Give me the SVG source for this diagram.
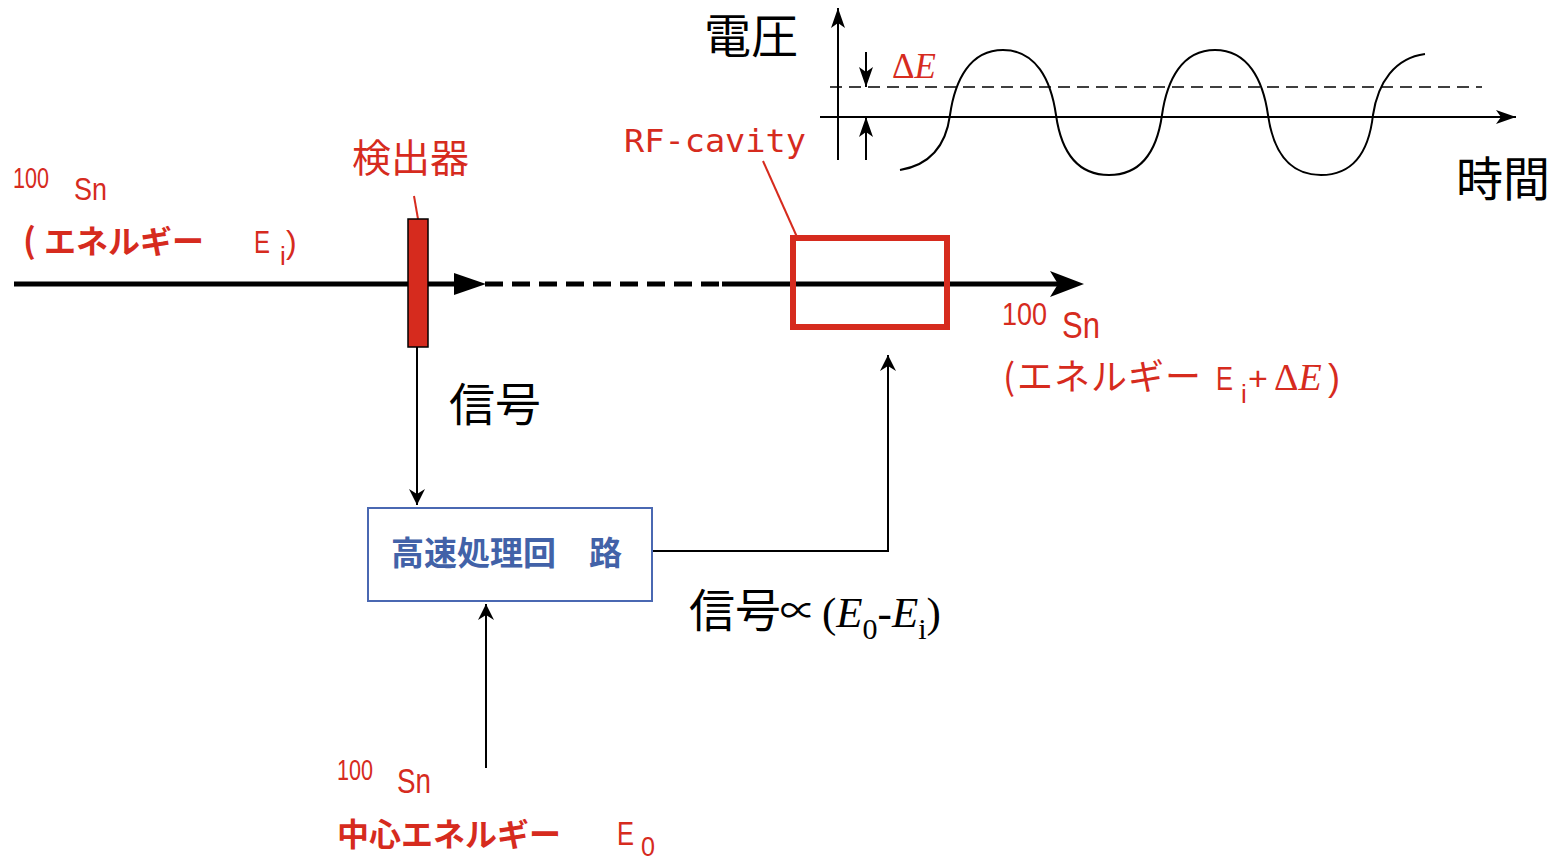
<svg xmlns="http://www.w3.org/2000/svg" width="1558" height="861" viewBox="0 0 1558 861">
<style>
.red{fill:#d62b1e}
.blk{fill:#000}
.cjk{font-family:"Noto Sans CJK JP","Noto Sans",sans-serif}
.nar{font-family:"Liberation Sans",Arial,sans-serif}
.ser{font-family:"Liberation Serif","Times New Roman",serif}
.it{font-style:italic}
.mono{font-family:"DejaVu Sans Mono","Liberation Mono",monospace}
.thin{stroke:#000;stroke-width:2;fill:none}
</style>
<defs>
<marker id="arr" markerUnits="userSpaceOnUse" viewBox="0 0 16 16" markerWidth="16" markerHeight="16" refX="16" refY="8" orient="auto">
<path d="M0,0 L16,8 L0,16 L5,8 z" fill="#000"/>
</marker>
<marker id="arrS" markerUnits="userSpaceOnUse" viewBox="0 0 20 14" markerWidth="20" markerHeight="14" refX="20" refY="7" orient="auto">
<path d="M0,0 L20,7 L0,14 L5,7 z" fill="#000"/>
</marker>
</defs>
<rect width="1558" height="861" fill="#fff"/>

<g id="connectors">
<line x1="14" y1="284" x2="460" y2="284" stroke="#000" stroke-width="5"/>
<line x1="485" y1="284" x2="722" y2="284" stroke="#000" stroke-width="5" stroke-dasharray="18,9"/>
<line x1="722" y1="284" x2="1075" y2="284" stroke="#000" stroke-width="5"/>
<polygon points="454,273 486,284 454,295" fill="#000"/>
<polygon points="1050,271 1084,284 1050,297 1058,284" fill="#000"/>
<line x1="417" y1="347" x2="417" y2="505" class="thin" marker-end="url(#arr)"/>
<polyline points="652,551 888,551 888,355" class="thin" marker-end="url(#arr)"/>
<line x1="486" y1="768" x2="486" y2="604" class="thin" marker-end="url(#arr)"/>
<line x1="414" y1="196" x2="418" y2="219" stroke="#d62b1e" stroke-width="2"/>
<line x1="763" y1="161" x2="797" y2="237" stroke="#d62b1e" stroke-width="2"/>
</g>

<g id="detector">
<rect x="408" y="219" width="20" height="128" fill="#d62b1e" stroke="#000" stroke-width="1.5"/>
<text x="352" y="172" class="cjk red" font-size="39">検出器</text>
</g>

<g id="rf-cavity">
<rect x="793" y="238" width="154" height="89" fill="none" stroke="#d62b1e" stroke-width="6"/>
<text x="624" y="152" class="mono red" font-size="32" textLength="182" lengthAdjust="spacingAndGlyphs">RF-cavity</text>
</g>

<g id="processor">
<rect x="368" y="508" width="284" height="93" fill="#fff" stroke="#4a68b2" stroke-width="2"/>
<text x="391" y="565" class="cjk" font-size="33" font-weight="bold" fill="#4262a8">高速処理回</text>
<text x="589" y="565" class="cjk" font-size="33" font-weight="bold" fill="#4262a8">路</text>
</g>

<g id="input-beam-label">
<text x="13" y="188" class="nar red" font-size="29" textLength="36" lengthAdjust="spacingAndGlyphs">100</text>
<text x="74" y="200" class="nar red" font-size="32" textLength="33" lengthAdjust="spacingAndGlyphs">Sn</text>
<text x="23" y="253" class="cjk red" font-size="34" font-weight="bold">(</text>
<text x="44" y="253" class="cjk red" font-size="32" font-weight="bold">エネルギー</text>
<text x="254" y="253" class="nar red" font-size="32" textLength="16" lengthAdjust="spacingAndGlyphs">E</text>
<text x="280" y="265" class="nar red" font-size="26">i</text>
<text x="286" y="253" class="nar red" font-size="32">)</text>
</g>

<g id="output-beam-label">
<text x="1002" y="325" class="nar red" font-size="31" textLength="45" lengthAdjust="spacingAndGlyphs">100</text>
<text x="1062" y="338" class="nar red" font-size="36" textLength="38" lengthAdjust="spacingAndGlyphs">Sn</text>
<text x="1003" y="390" class="cjk red" font-size="36">(<tspan x="1017" letter-spacing="1">エネルギー</tspan></text>
<text x="1216" y="390" class="nar red" font-size="34" textLength="17" lengthAdjust="spacingAndGlyphs">E</text>
<text x="1241" y="403" class="nar red" font-size="26">i</text>
<text x="1248" y="390" class="nar red" font-size="34">+</text>
<text x="1274" y="390" class="ser red" font-size="38">Δ<tspan class="it">E</tspan></text>
<text x="1328" y="390" class="nar red" font-size="36">)</text>
</g>

<g id="center-energy-label">
<text x="337" y="780" class="nar red" font-size="29" textLength="36" lengthAdjust="spacingAndGlyphs">100</text>
<text x="397" y="793" class="nar red" font-size="35" textLength="34" lengthAdjust="spacingAndGlyphs">Sn</text>
<text x="337" y="846" class="cjk red" font-size="32" font-weight="bold">中心エネルギー</text>
<text x="617" y="845" class="nar red" font-size="33" textLength="17" lengthAdjust="spacingAndGlyphs">E</text>
<text x="641" y="856" class="nar red" font-size="27" textLength="14" lengthAdjust="spacingAndGlyphs">0</text>
</g>

<g id="signal-labels">
<text x="449" y="421" class="cjk blk" font-size="46">信号</text>
<text x="689" y="627" class="cjk blk" font-size="46">信号</text>
<text x="780" y="624" class="cjk blk" font-size="36">∝</text>
<text x="822" y="627" class="ser" font-size="43">(<tspan class="it">E</tspan><tspan font-size="30" dy="12">0</tspan><tspan dy="-12">-</tspan><tspan class="it">E</tspan><tspan font-size="30" dy="12">i</tspan><tspan dy="-12">)</tspan></text>
</g>

<g id="waveform">
<line x1="838" y1="160" x2="838" y2="8" class="thin" marker-end="url(#arrS)"/>
<line x1="820" y1="117" x2="1516" y2="117" class="thin" marker-end="url(#arrS)"/>
<line x1="830" y1="87" x2="1482" y2="87" stroke="#000" stroke-width="1.5" stroke-dasharray="12,7"/>
<line x1="866" y1="52" x2="866" y2="87" class="thin" marker-end="url(#arrS)"/>
<line x1="866" y1="160" x2="866" y2="117" class="thin" marker-end="url(#arrS)"/>
<path d="M900,170 C930,165 946,145 950,115 C955,80 970,50 1003,50 C1036,50 1051,80 1056,115 C1061,150 1076,175 1109,175 C1142,175 1157,150 1162,115 C1167,80 1182,50 1215,50 C1248,50 1263,80 1268,115 C1273,150 1288,175 1321,175 C1354,175 1369,150 1373,115 C1378,82 1395,58 1425,54" fill="none" stroke="#000" stroke-width="2"/>
<text x="704" y="53" class="cjk blk" font-size="47">電圧</text>
<text x="1456" y="196" class="cjk blk" font-size="47">時間</text>
<text x="892" y="78" class="ser red" font-size="35">Δ<tspan class="it">E</tspan></text>
</g>
</svg>
